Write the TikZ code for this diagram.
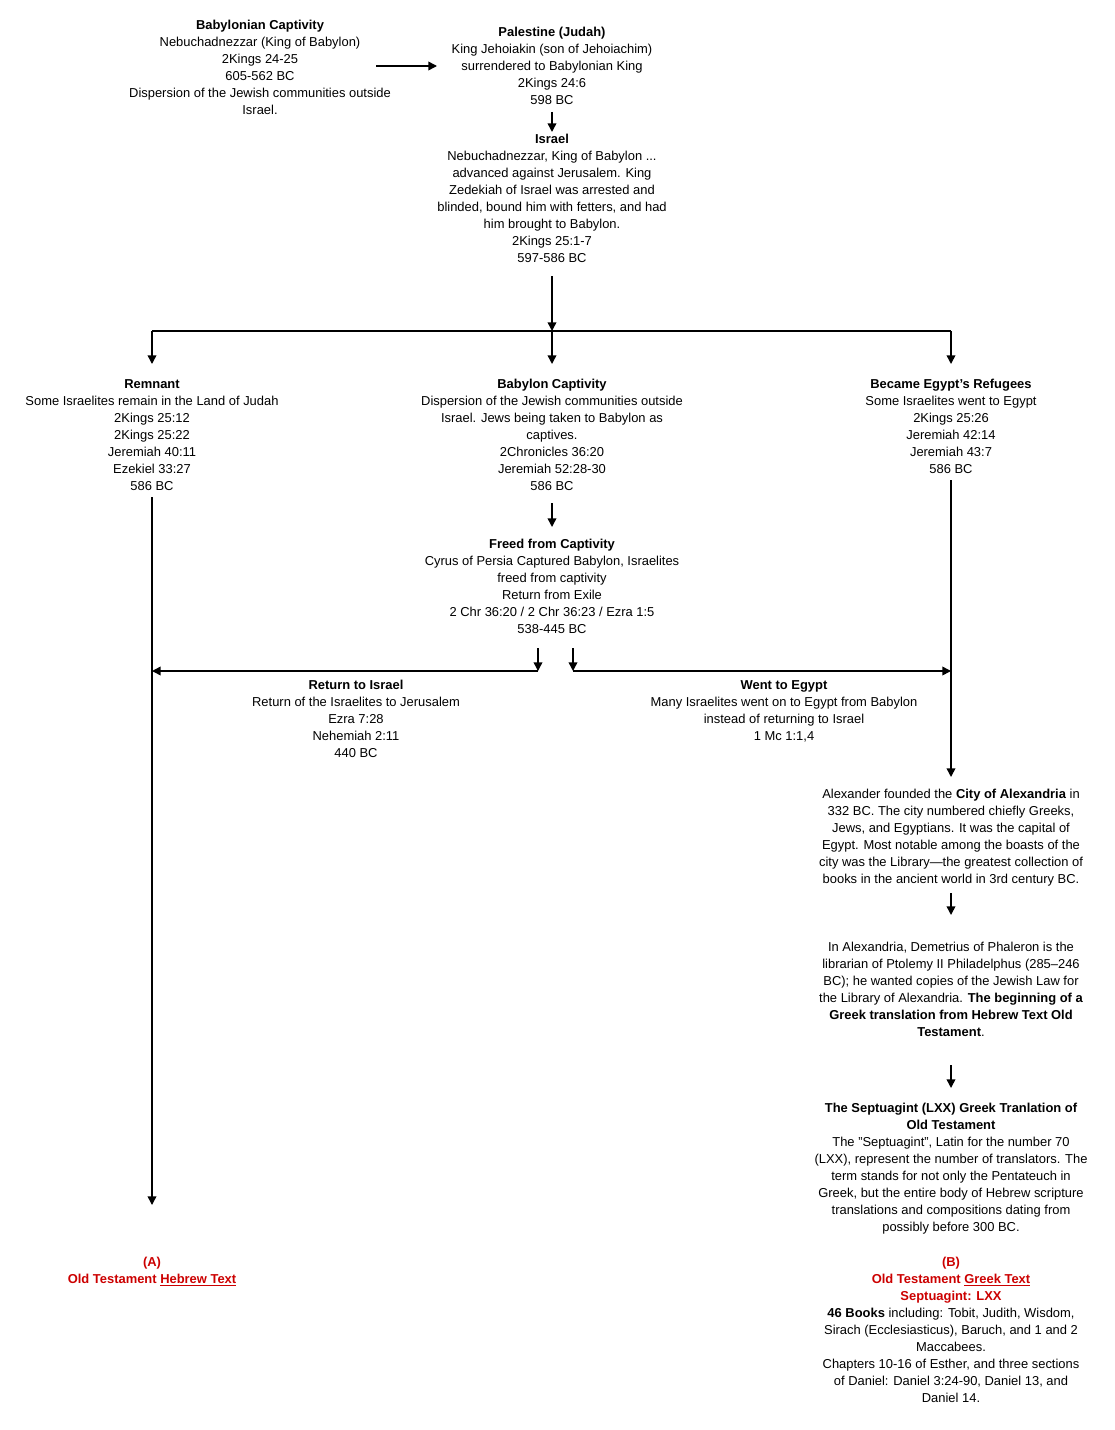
\documentclass[tikz,border=0pt]{standalone}
\usepackage{fontspec}
\setmainfont{Liberation Sans}
\usetikzlibrary{arrows.meta}
\definecolor{otred}{RGB}{204,0,0}
\begin{document}
\begin{tikzpicture}[x=0.75pt,y=-0.75pt,
  txt/.style={anchor=north,align=center,inner sep=0pt,font=\fontsize{9.7}{12.75}\selectfont},
  redtxt/.style={txt,text=otred},
  conn/.style={line width=1.1pt,draw=black},
  arr/.style={conn,-{Triangle[length=6.5pt,width=6.5pt]}}]
\useasboundingbox[fill=white] (0,0) rectangle (1114,1430);

% text nodes
\node[txt] (bc) at (260,20) {\textbf{Babylonian Captivity}\\Nebuchadnezzar (King of Babylon)\\2Kings 24-25\\605-562 BC\\Dispersion of the Jewish communities outside\\Israel.};
\node[txt] (pal) at (552,27) {\textbf{Palestine (Judah)}\\King Jehoiakin (son of Jehoiachim)\\surrendered to Babylonian King\\2Kings 24:6\\598 BC};
\node[txt] (isr) at (552,134) {\textbf{Israel}\\Nebuchadnezzar, King of Babylon ...\\advanced against Jerusalem. King\\Zedekiah of Israel was arrested and\\blinded, bound him with fetters, and had\\him brought to Babylon.\\2Kings 25:1-7\\597-586 BC};
\node[txt] (rem) at (152,379) {\textbf{Remnant}\\Some Israelites remain in the Land of Judah\\2Kings 25:12\\2Kings 25:22\\Jeremiah 40:11\\Ezekiel 33:27\\586 BC};
\node[txt] (bcap) at (552,379) {\textbf{Babylon Captivity}\\Dispersion of the Jewish communities outside\\Israel. Jews being taken to Babylon as\\captives.\\2Chronicles 36:20\\Jeremiah 52:28-30\\586 BC};
\node[txt] (egr) at (951,379) {\textbf{Became Egypt's Refugees}\\Some Israelites went to Egypt\\2Kings 25:26\\Jeremiah 42:14\\Jeremiah 43:7\\586 BC};
\node[txt] (freed) at (552,539) {\textbf{Freed from Captivity}\\Cyrus of Persia Captured Babylon, Israelites\\freed from captivity\\Return from Exile\\2 Chr 36:20 / 2 Chr 36:23 / Ezra 1:5\\538-445 BC};
\node[txt] (ret) at (356,680) {\textbf{Return to Israel}\\Return of the Israelites to Jerusalem\\Ezra 7:28\\Nehemiah 2:11\\440 BC};
\node[txt] (went) at (784,680) {\textbf{Went to Egypt}\\Many Israelites went on to Egypt from Babylon\\instead of returning to Israel\\1 Mc 1:1,4};
\node[txt] (alex) at (951,789) {Alexander founded the \textbf{City of Alexandria} in\\332 BC. The city numbered chiefly Greeks,\\Jews, and Egyptians. It was the capital of\\Egypt. Most notable among the boasts of the\\city was the Library---the greatest collection of\\books in the ancient world in 3rd century BC.};
\node[txt] (dem) at (951,942) {In Alexandria, Demetrius of Phaleron is the\\librarian of Ptolemy II Philadelphus (285--246\\BC); he wanted copies of the Jewish Law for\\the Library of Alexandria. \textbf{The beginning of a}\\\textbf{Greek translation from Hebrew Text Old}\\\textbf{Testament}.};
\node[txt] (sept) at (951,1103) {\textbf{The Septuagint (LXX) Greek Tranlation of}\\\textbf{Old Testament}\\The "Septuagint", Latin for the number 70\\(LXX), represent the number of translators. The\\term stands for not only the Pentateuch in\\Greek, but the entire body of Hebrew scripture\\translations and compositions dating from\\possibly before 300 BC.};
\node[txt] (B) at (951,1257) {\textcolor{otred}{\textbf{(B)}}\\\textcolor{otred}{\textbf{Old Testament \underline{Greek Text}}}\\\textcolor{otred}{\textbf{Septuagint: LXX}}\\\textbf{46 Books} including: Tobit, Judith, Wisdom,\\Sirach (Ecclesiasticus), Baruch, and 1 and 2\\Maccabees.\\Chapters 10-16 of Esther, and three sections\\of Daniel: Daniel 3:24-90, Daniel 13, and\\Daniel 14.};
\node[redtxt] (A) at (152,1257) {\textbf{(A)}\\\textbf{Old Testament \underline{Hebrew Text}}};

% connector coordinates
\coordinate (bcR) at (376,66);
\coordinate (palL) at (437,66);
\coordinate (palB) at (552,112);
\coordinate (isrT) at (552,132);
\coordinate (isrB) at (552,276);
\coordinate (J) at (552,331);
\coordinate (JL) at (152,331);
\coordinate (JR) at (951,331);
\coordinate (remT) at (152,364);
\coordinate (bcapT) at (552,364);
\coordinate (egrT) at (951,364);
\coordinate (remB) at (152,497);
\coordinate (Aend) at (152,1205);
\coordinate (bcapB) at (552,503);
\coordinate (freedT) at (552,527);
\coordinate (fL1) at (538,648);
\coordinate (fL2) at (538,671);
\coordinate (fLend) at (152,671);
\coordinate (fR1) at (573,648);
\coordinate (fR2) at (573,671);
\coordinate (fRend) at (951,671);
\coordinate (egrB) at (951,480);
\coordinate (alexT) at (951,777);
\coordinate (alexB) at (951,893);
\coordinate (demT) at (951,915);
\coordinate (demB) at (951,1065);
\coordinate (septT) at (951,1088);

% connectors
\draw[arr] (bcR) -- (palL);
\draw[arr] (palB) -- (isrT);
\draw[arr] (isrB) -- (J);
\draw[conn] (JL) -- (JR);
\draw[arr] (JL) -- (remT);
\draw[arr] (J) -- (bcapT);
\draw[arr] (JR) -- (egrT);
\draw[arr] (remB) -- (Aend);
\draw[arr] (bcapB) -- (freedT);
\draw[arr] (fL1) -- (fL2);
\draw[arr] (fL2) -- (fLend);
\draw[arr] (fR1) -- (fR2);
\draw[arr] (fR2) -- (fRend);
\draw[arr] (egrB) -- (alexT);
\draw[arr] (alexB) -- (demT);
\draw[arr] (demB) -- (septT);
\end{tikzpicture}
\end{document}
